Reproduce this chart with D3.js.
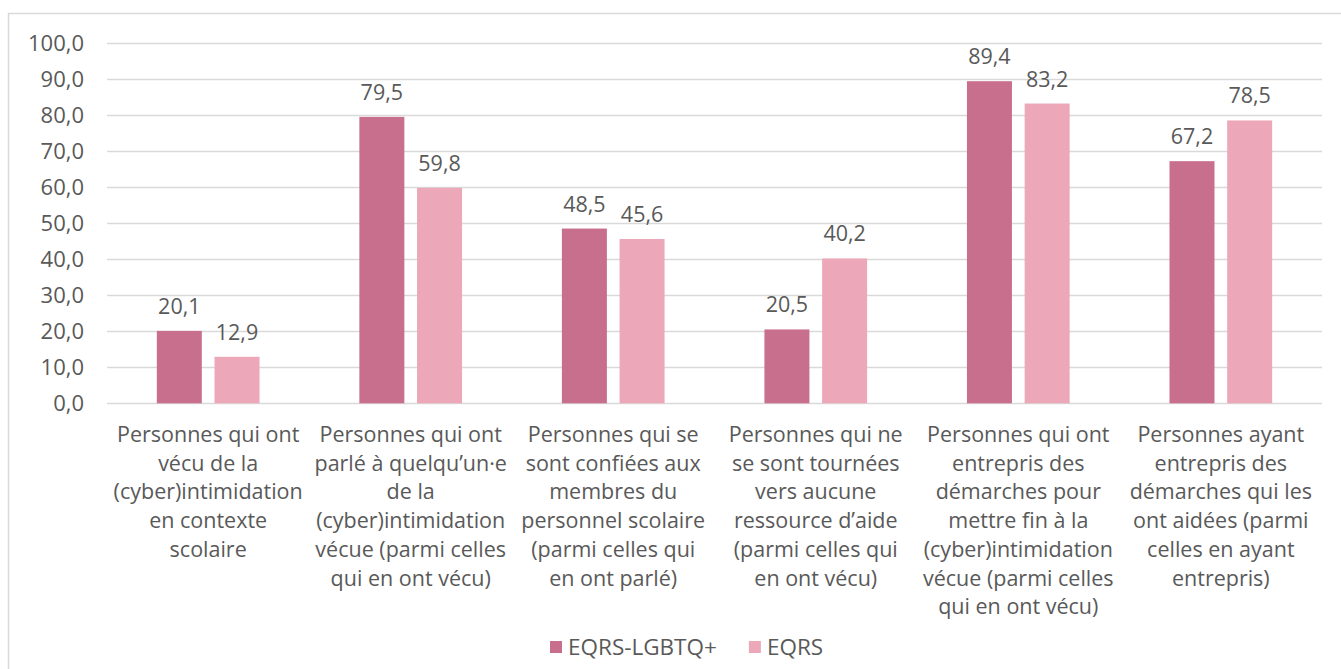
<!DOCTYPE html>
<html>
<head>
<meta charset="utf-8">
<script src="https://cdn.jsdelivr.net/npm/d3@7"></script>
<style>
    body { margin: 0; background: #fff; }
    text { font-family: "Open Sans", "Liberation Sans", sans-serif; fill: #595959; }
</style>
</head>
<body>
<div id="chart"></div>
<script>
const categories = [
    ["Personnes qui ont", "vécu de la", "(cyber)intimidation", "en contexte", "scolaire"],
    ["Personnes qui ont", "parlé à quelqu’un·e", "de la", "(cyber)intimidation", "vécue (parmi celles", "qui en ont vécu)"],
    ["Personnes qui se", "sont confiées aux", "membres du", "personnel scolaire", "(parmi celles qui", "en ont parlé)"],
    ["Personnes qui ne", "se sont tournées", "vers aucune", "ressource d’aide", "(parmi celles qui", "en ont vécu)"],
    ["Personnes qui ont", "entrepris des", "démarches pour", "mettre fin à la", "(cyber)intimidation", "vécue (parmi celles", "qui en ont vécu)"],
    ["Personnes ayant", "entrepris des", "démarches qui les", "ont aidées (parmi", "celles en ayant", "entrepris)"]
];
const seriesNames = ["EQRS-LGBTQ+", "EQRS"];
const lgbtqValues = [20.1, 79.5, 48.5, 20.5, 89.4, 67.2];
const eqrsValues = [12.9, 59.8, 45.6, 40.2, 83.2, 78.5];
const yTicks = [0, 10, 20, 30, 40, 50, 60, 70, 80, 90, 100];

const width = 1341, height = 669;
const colors = ["#C96F8E", "#ECA8B9"];
const fmt = v => d3.format(".1f")(v).replace(".", ",");

const svg = d3.select("#chart")
    .append("svg")
    .attr("width", width)
    .attr("height", height);

// outer chart frame (runs off the right and bottom edges)
svg.append("rect")
    .attr("x", 8.5)
    .attr("y", 13.5)
    .attr("width", 1400)
    .attr("height", 700)
    .style("fill", "#fff")
    .style("stroke", "#d9d9d9")
    .style("stroke-width", 1.5);

const plotLeft = 107, plotRight = 1322;
const y = d3.scaleLinear().domain([0, 100]).range([403.3, 43]);

const x0 = d3.scaleBand()
    .domain(d3.range(categories.length))
    .range([plotLeft, plotRight])
    .paddingInner(0.493)
    .paddingOuter(0.246);

const x1 = d3.scaleBand()
    .domain(seriesNames)
    .range([0, x0.bandwidth()])
    .paddingInner(0.22);

// gridlines
svg.append("g")
    .selectAll("line")
    .data(yTicks)
    .enter().append("line")
    .attr("x1", plotLeft)
    .attr("x2", plotRight)
    .attr("y1", d => Math.round(y(d)) + 0.5)
    .attr("y2", d => Math.round(y(d)) + 0.5)
    .style("stroke", "#d9d9d9")
    .style("stroke-width", 1.5);

// y tick labels
svg.append("g")
    .selectAll("text")
    .data(yTicks)
    .enter().append("text")
    .attr("x", 84)
    .attr("y", d => y(d))
    .attr("dy", "0.35em")
    .attr("text-anchor", "end")
    .style("font-size", "22px")
    .text(d => fmt(d));

const rows = categories.map((c, i) => ({
    index: i,
    values: [
        { name: seriesNames[0], value: lgbtqValues[i] },
        { name: seriesNames[1], value: eqrsValues[i] }
    ]
}));

const groups = svg.append("g")
    .selectAll("g")
    .data(rows)
    .enter().append("g")
    .attr("transform", d => "translate(" + x0(d.index) + ",0)");

groups.selectAll("rect")
    .data(d => d.values)
    .enter().append("rect")
    .attr("x", d => x1(d.name))
    .attr("width", x1.bandwidth())
    .attr("y", d => y(d.value))
    .attr("height", d => y(0) - y(d.value))
    .style("fill", (d, i) => colors[i]);

groups.selectAll("text")
    .data(d => d.values)
    .enter().append("text")
    .attr("x", d => x1(d.name) + x1.bandwidth() / 2)
    .attr("y", d => y(d.value) - 17)
    .attr("text-anchor", "middle")
    .style("font-size", "21.5px")
    .text(d => fmt(d.value));

// category labels, line breaks as in the original
svg.append("g")
    .selectAll("text")
    .data(categories)
    .enter().append("text")
    .attr("x", (d, i) => x0(i) + x0.bandwidth() / 2)
    .attr("y", 442)
    .attr("text-anchor", "middle")
    .style("font-size", "21.5px")
    .each(function(d) {
        const t = d3.select(this);
        d.forEach((line, k) => {
            t.append("tspan")
                .attr("x", t.attr("x"))
                .attr("dy", k == 0 ? 0 : 28.7)
                .text(line);
        });
    });

// legend
const legend = svg.append("g").attr("transform", "translate(550,647)");
let lx = 0;
seriesNames.forEach((name, i) => {
    legend.append("rect")
        .attr("x", lx)
        .attr("y", -6)
        .attr("width", 12)
        .attr("height", 12)
        .style("fill", colors[i]);
    const label = legend.append("text")
        .attr("x", lx + 18)
        .attr("dy", "0.35em")
        .style("font-size", "22.5px")
        .text(name);
    lx += 18 + label.node().getComputedTextLength() + 32;
});
</script>
</body>
</html>
